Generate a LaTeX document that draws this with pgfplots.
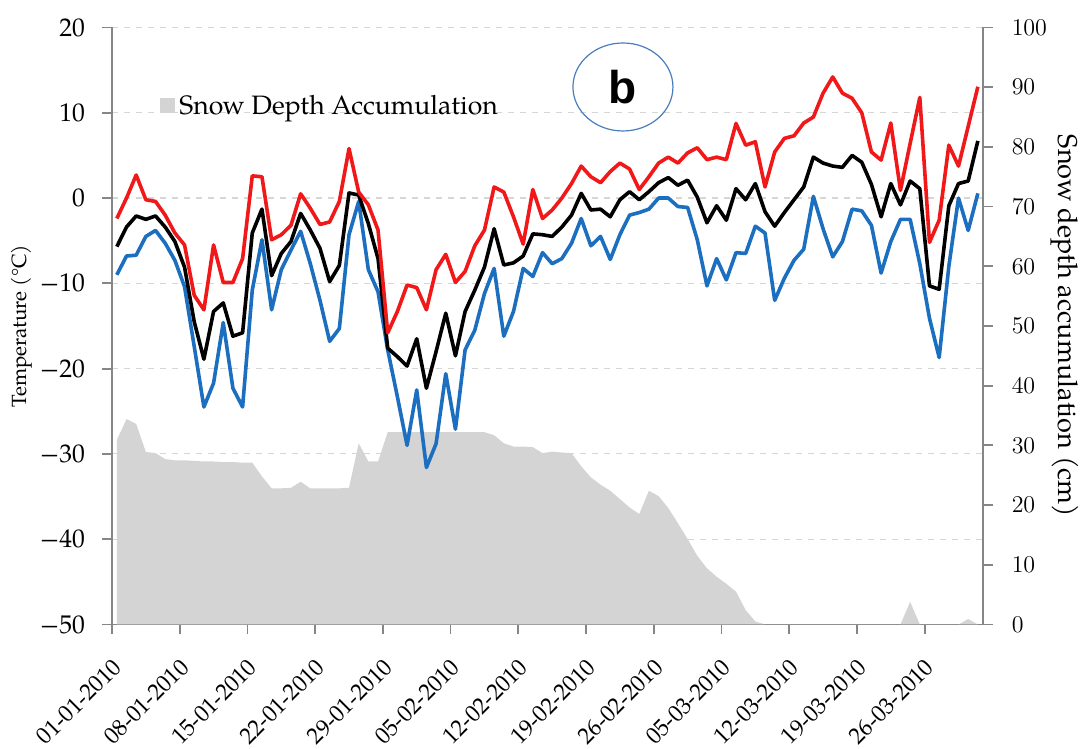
\documentclass[border=0pt]{standalone}
\usepackage{pgfplots}
\pgfplotsset{compat=1.18}
\usepackage{pgfplotstable}
\usepackage{fontspec}
\setmainfont{TeX Gyre Pagella}
\newfontfamily\arialb{Liberation Sans}
\definecolor{tred}{HTML}{F01818}
\definecolor{tblue}{HTML}{1C6EBF}
\definecolor{snowgray}{HTML}{D4D4D4}
\definecolor{axgray}{HTML}{868686}
\definecolor{gridgray}{HTML}{D6D6D6}
\definecolor{circ}{HTML}{4A7EBB}

\pgfplotstableread{
x tmax tmean tmin snow
0.5 -2.4 -5.7 -9.0 30.9
1.5 0.0 -3.4 -6.8 34.4
2.5 2.7 -2.1 -6.7 33.6
3.5 -0.2 -2.5 -4.5 28.9
4.5 -0.4 -2.1 -3.8 28.7
5.5 -2.0 -3.4 -5.3 27.7
6.5 -4.1 -5.1 -7.3 27.5
7.5 -5.5 -8.1 -10.4 27.5
8.5 -11.4 -14.5 -17.4 27.4
9.5 -13.1 -18.9 -24.5 27.3
10.5 -5.5 -13.3 -21.7 27.3
11.5 -9.9 -12.3 -14.6 27.2
12.5 -9.9 -16.2 -22.3 27.2
13.5 -7.1 -15.8 -24.5 27.1
14.5 2.6 -4.1 -10.8 27.1
15.5 2.5 -1.3 -4.9 24.8
16.5 -4.9 -9.1 -13.1 22.8
17.5 -4.3 -6.5 -8.4 22.8
18.5 -3.2 -5.1 -6.1 22.9
19.5 0.5 -1.8 -3.9 23.9
20.5 -1.2 -3.75 -7.7 22.8
21.5 -3.1 -5.9 -12.0 22.8
22.5 -2.8 -9.8 -16.8 22.8
23.5 -0.4 -7.9 -15.3 22.8
24.5 5.8 0.6 -4.3 22.9
25.5 0.7 0.35 -0.4 30.35
26.5 -0.8 -3.0 -8.4 27.3
27.5 -3.75 -7.1 -11.0 27.3
28.5 -15.8 -17.6 -17.8 32.2
29.5 -13.3 -18.6 -23.3 32.2
30.5 -10.2 -19.7 -29.0 32.2
31.5 -10.5 -16.5 -22.5 32.2
32.5 -13.1 -22.3 -31.6 32.2
33.5 -8.4 -18.0 -28.8 32.2
34.5 -6.6 -13.5 -20.6 32.2
35.5 -9.9 -18.5 -27.1 32.2
36.5 -8.6 -13.3 -17.8 32.2
37.5 -5.6 -10.8 -15.5 32.2
38.5 -3.75 -8.1 -11.2 32.2
39.5 1.3 -3.6 -8.25 31.7
40.5 0.7 -7.85 -16.2 30.35
41.5 -2.2 -7.6 -13.3 29.8
42.5 -5.4 -6.8 -8.25 29.8
43.5 1.0 -4.2 -9.2 29.7
44.5 -2.4 -4.3 -6.4 28.7
45.5 -1.4 -4.5 -7.7 28.95
46.5 0.0 -3.4 -7.1 28.8
47.5 1.7 -2.0 -5.3 28.7
48.5 3.75 0.55 -2.4 26.5
49.5 2.5 -1.4 -5.6 24.65
50.5 1.8 -1.3 -4.5 23.4
51.5 3.1 -2.2 -7.2 22.4
52.5 4.1 -0.2 -4.3 21.0
53.5 3.4 0.75 -2.0 19.6
54.5 1.0 -0.2 -1.7 18.5
55.5 2.5 0.75 -1.3 22.4
56.5 4.1 1.8 0.0 21.5
57.5 4.8 2.4 0.0 19.5
58.5 4.1 1.5 -1.0 16.95
59.5 5.3 2.1 -1.1 14.3
60.5 5.9 0.1 -4.9 11.5
61.5 4.5 -2.9 -10.3 9.4
62.5 4.8 -0.9 -7.1 8.0
63.5 4.5 -2.6 -9.6 6.8
64.5 8.75 1.1 -6.4 5.5
65.5 6.2 -0.2 -6.5 2.4
66.5 6.6 1.7 -3.3 0.5
67.5 1.3 -1.6 -4.1 0
68.5 5.4 -3.3 -12.0 0
69.5 7.0 -1.7 -9.4 0
70.5 7.3 -0.2 -7.3 0
71.5 8.8 1.3 -6.0 0
72.5 9.5 4.8 0.2 0
73.5 12.3 4.1 -3.6 0
74.5 14.2 3.75 -6.9 0
75.5 12.3 3.6 -5.1 0
76.5 11.7 5.0 -1.3 0
77.5 10.0 4.2 -1.5 0
78.5 5.4 1.6 -3.2 0
79.5 4.45 -2.2 -8.8 0
80.5 8.8 1.7 -5.1 0
81.5 0.9 -0.8 -2.5 0
82.5 6.4 2.0 -2.5 3.8
83.5 11.8 1.1 -7.7 0
84.5 -5.2 -10.3 -14.1 0
85.5 -2.6 -10.7 -18.7 0
86.5 6.2 -0.9 -8.0 0
87.5 3.75 1.7 0.0 0
88.5 8.4 2.0 -3.8 0.9
89.5 13.05 6.7 0.55 0
}\data

\pgfplotsset{
  common/.style={scale only axis, width=435.4pt, height=298.5pt, xmin=0, xmax=90},
}

\begin{document}
\begin{tikzpicture}
% axis 1: temperature frame, grid, ticks
\begin{axis}[common,
  ymin=-50, ymax=20,
  axis x line*=bottom, axis y line*=left,
  axis line style={axgray, line width=0.9pt},
  xtick={0,7,...,84},
  xticklabels={01-01-2010,08-01-2010,15-01-2010,22-01-2010,29-01-2010,05-02-2010,12-02-2010,19-02-2010,26-02-2010,05-03-2010,12-03-2010,19-03-2010,26-03-2010},
  ytick={-50,-40,...,20},
  yticklabels={−50,−40,−30,−20,−10,0,10,20},
  tick align=outside, major tick length=5pt,
  tick style={axgray, line width=0.9pt},
  ymajorgrids, grid style={gridgray, dashed, line width=0.6pt},
  xticklabel style={font=\fontsize{11.6}{13}\selectfont, xshift=5pt, yshift=-12pt, rotate=45, anchor=east},
  yticklabel style={font=\fontsize{12.8}{14}\selectfont, xshift=-5pt},
  ylabel={Temperature (°C)},
  ylabel style={font=\fontsize{10.3}{12}\selectfont, at={(axis description cs:-0.104,0.5)}, anchor=center},
]
\addplot[draw=none] coordinates {(1,0)};
\end{axis}
% axis 2: snow depth
\begin{axis}[common,
  ymin=0, ymax=100,
  axis y line*=right, axis x line=none,
  axis line style={axgray, line width=0.9pt},
  ytick={0,10,...,100},
  tick align=outside, major tick length=5pt,
  tick style={axgray, line width=0.9pt},
  yticklabel style={font=\fontsize{12.8}{14}\selectfont, xshift=6pt},
  ylabel={Snow depth accumulation (cm)},
  ylabel style={font=\fontsize{13.6}{15}\selectfont, at={(axis description cs:1.094,0.5)}, anchor=center, rotate=180},
  legend style={at={(rel axis cs:0.0551,0.8685)}, anchor=west, draw=none, fill=none, inner sep=0pt,
    font=\fontsize{13.3}{15}\selectfont, nodes={inner sep=2pt}},
  legend image code/.code={\fill[snowgray] (0pt,-3.75pt) rectangle (7.5pt,3.75pt);},
]
\addplot[fill=snowgray, draw=none] table[x=x, y=snow]{\data} \closedcycle;
\addlegendentry{Snow Depth Accumulation}
\end{axis}
% axis 3: temperature lines
\begin{axis}[common, ymin=-50, ymax=20, hide axis]
\addplot[tblue, line width=1.8pt, line join=round] table[x=x, y=tmin]{\data};
\addplot[black, line width=1.8pt, line join=round] table[x=x, y=tmean]{\data};
\addplot[tred, line width=1.8pt, line join=round] table[x=x, y=tmax]{\data};
\end{axis}
\draw[circ, line width=0.6pt] (255.5pt,268.75pt) ellipse [x radius=25pt, y radius=22pt];
\node[font=\arialb\bfseries\fontsize{23}{26}\selectfont, inner sep=0pt] at (255.5pt,268.75pt) {b};
\pgfresetboundingbox
\path[use as bounding box] (-56pt,-62.25pt) rectangle (487.05pt,312.25pt);
\end{tikzpicture}
\end{document}
